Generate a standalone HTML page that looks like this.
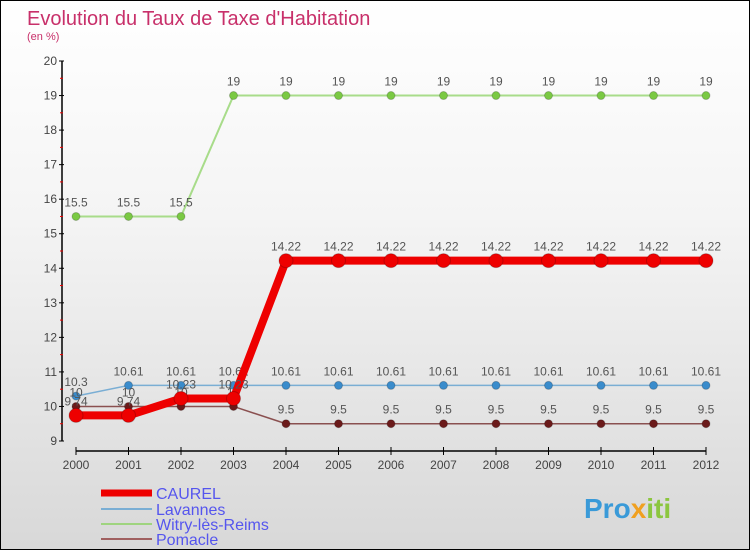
<!DOCTYPE html>
<html><head><meta charset="utf-8"><style>
body{margin:0}
#c{width:748px;height:548px;border:1px solid #000;background:linear-gradient(#fff 0%,#f4f4f4 40%,#d8d8d8 100%);position:relative;font-family:"Liberation Sans",sans-serif}
</style></head><body>
<div id="c">
<svg id="s" width="748" height="548">
<text x="26" y="24" font-size="20" fill="#c8306a">Evolution du Taux de Taxe d'Habitation</text>
<text x="26" y="39" font-size="11" fill="#c8306a">(en %)</text>
<g id="axes"></g><g id="series"></g>
<g>
<line x1="100" y1="492" x2="151" y2="492" stroke="#e00" stroke-width="7"/>
<text x="155" y="498" font-size="16" fill="#5555ee">CAUREL</text>
<line x1="100" y1="508" x2="151" y2="508" stroke="#7aaed4" stroke-width="2"/>
<text x="155" y="514" font-size="16" fill="#5555ee">Lavannes</text>
<line x1="100" y1="523" x2="151" y2="523" stroke="#9fd47f" stroke-width="2"/>
<text x="155" y="529" font-size="16" fill="#5555ee">Witry-lès-Reims</text>
<line x1="100" y1="538" x2="151" y2="538" stroke="#a06060" stroke-width="2"/>
<text x="155" y="544" font-size="16" fill="#5555ee">Pomacle</text>
</g>
<text x="583" y="517" font-size="28" font-weight="bold" fill="#3a9ad8">Pro<tspan fill="#f0a020">x</tspan><tspan fill="#8cc63f">iti</tspan></text>
</svg>
</div>
<script>
const years=[2000,2001,2002,2003,2004,2005,2006,2007,2008,2009,2010,2011,2012];
const yTicks=[9,10,11,12,13,14,15,16,17,18,19,20];
const caurel=[9.74,9.74,10.23,10.23,14.22,14.22,14.22,14.22,14.22,14.22,14.22,14.22,14.22];
const lavannes=[10.3,10.61,10.61,10.61,10.61,10.61,10.61,10.61,10.61,10.61,10.61,10.61,10.61];
const witry=[15.5,15.5,15.5,19,19,19,19,19,19,19,19,19,19];
const pomacle=[10,10,10,10,9.5,9.5,9.5,9.5,9.5,9.5,9.5,9.5,9.5];
const NS="http://www.w3.org/2000/svg";
const X=i=>75+i*(630/(years.length-1));
const Y=v=>440-(v-9)*(380/11);
function mk(t,a,p){const e=document.createElementNS(NS,t);for(const k in a)e.setAttribute(k,a[k]);p.appendChild(e);return e;}
const ax=document.getElementById('axes');
const yAxis=mk('line',{x1:61,y1:60,x2:61,y2:440,stroke:'#000','stroke-width':1.5},ax);


const xAxis=mk('line',{x1:75,y1:450,x2:705,y2:450,stroke:'#000','stroke-width':1.5},ax);


yTicks.forEach(v=>{
 mk('line',{x1:58,y1:Y(v),x2:63,y2:Y(v),stroke:'#000'},ax);
 if(v<20)mk('line',{x1:59,y1:Y(v+0.5),x2:62,y2:Y(v+0.5),stroke:'#e00'},ax);
 const t=mk('text',{x:56,y:Y(v)+4,'font-size':12,fill:'#444','text-anchor':'end'},ax);t.textContent=v;
 
 
});
years.forEach((yr,i)=>{
 mk('line',{x1:X(i),y1:446,x2:X(i),y2:454,stroke:'#000'},ax);
 const t=mk('text',{x:X(i),y:468,'font-size':12,fill:'#444','text-anchor':'middle'},ax);t.textContent=yr;
 
 
});
const sg=document.getElementById('series');
function series(name,vals,col,dot,w,r){
 const g=mk('g',{},sg);
 
 
 mk('polyline',{points:vals.map((v,i)=>X(i)+','+Y(v)).join(' '),fill:'none',stroke:col,'stroke-width':w,'stroke-linejoin':'round'},g);
 vals.forEach((v,i)=>{
  const c=mk('circle',{cx:X(i),cy:Y(v),r:r,fill:dot,stroke:'rgba(0,0,0,0.2)'},g);
  
  
  const t=mk('text',{x:X(i),y:Y(v)-10,'font-size':12,fill:'#555','text-anchor':'middle'},g);
  t.textContent=String(v);
  
  
 });
}
series('witry',witry,'#a8dc8a','#7ac943',2,4);
series('lavannes',lavannes,'#7aaed4','#3a8ccc',1.5,4);
series('pomacle',pomacle,'#8a5050','#6b1a1a',1.5,4);
series('caurel',caurel,'#ee0000','#ee0000',8,7);
</script>
</body></html>
